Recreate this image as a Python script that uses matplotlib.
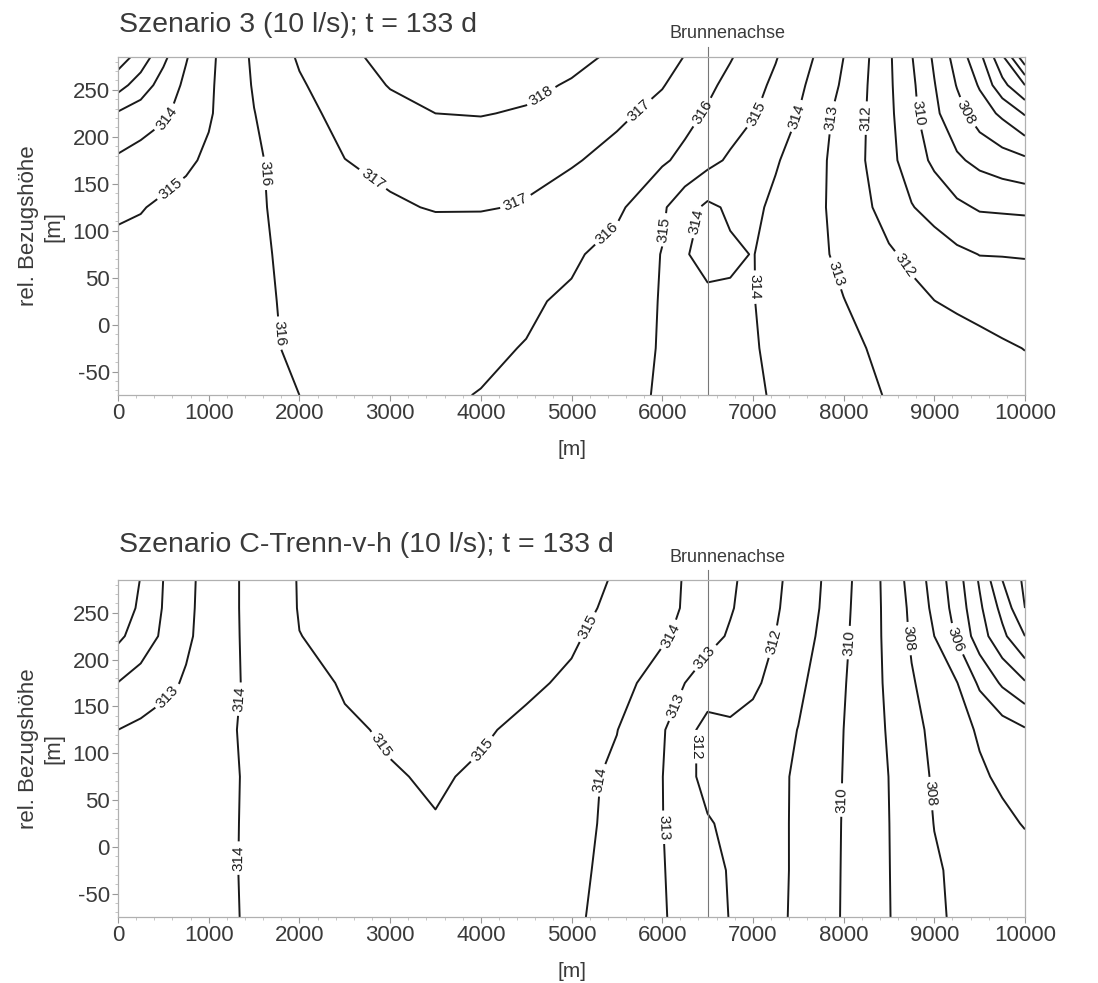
import numpy as np
import matplotlib
matplotlib.use("Agg")
import matplotlib.pyplot as plt
from matplotlib.ticker import MultipleLocator, AutoMinorLocator
import matplotlib.transforms as mtransforms

plt.rcParams['font.family'] = ['Liberation Sans', 'DejaVu Sans']
plt.rcParams['axes.unicode_minus'] = False

x_nodes = [0, 250, 500, 750, 1000, 1500, 2000, 2500, 3000, 3500, 4000, 4500, 5000, 5500, 6000, 6250,
           6500, 6750, 7000, 7250, 7500, 7750, 8000, 8250, 8500, 8750, 9000, 9250, 9500, 9750, 10000]
y_nodes = [-75, -25, 25, 75, 125, 175, 225, 255, 285]

# Szenario 3 - head (m) per row of y_nodes, bottom to top
head_s3 = [
    [315.55, 315.6, 315.65, 315.7, 315.75, 315.87, 316.0, 316.1, 316.12, 316.08, 315.98, 315.75, 315.47, 315.21, 314.93, 314.73,
     314.52, 314.32, 314.12, 313.92, 313.72, 313.52, 313.32, 313.12, 312.95, 312.85, 312.75, 312.65, 312.55, 312.45, 312.35],
    [315.5, 315.55, 315.6, 315.65, 315.75, 315.9, 316.07, 316.2, 316.25, 316.22, 316.12, 315.97, 315.62, 315.3, 314.95, 314.7,
     314.47, 314.25, 314.06, 313.85, 313.64, 313.42, 313.2, 313.0, 312.85, 312.7, 312.56, 312.41, 312.27, 312.12, 311.98],
    [315.4, 315.45, 315.5, 315.6, 315.7, 315.9, 316.1, 316.25, 316.35, 316.35, 316.25, 316.12, 315.86, 315.45, 314.95, 314.6,
     314.2, 314.15, 314.03, 313.73, 313.5, 313.27, 313.02, 312.77, 312.5, 312.26, 312.01, 311.85, 311.7, 311.55, 311.45],
    [315.25, 315.3, 315.4, 315.5, 315.6, 315.88, 316.18, 316.35, 316.5, 316.55, 316.5, 316.35, 316.15, 315.64, 314.97, 314.07,
     313.7, 313.85, 314.03, 313.65, 313.4, 313.12, 312.8, 312.45, 312.12, 311.8, 311.5, 311.2, 310.98, 310.97, 310.95],
    [314.85, 314.95, 315.15, 315.3, 315.5, 315.9, 316.25, 316.55, 316.9, 317.05, 317.05, 316.95, 316.5, 316.2, 315.15, 314.4,
     313.8, 314.15, 314.2, 313.8, 313.45, 313.1, 312.65, 312.15, 311.6, 311.05, 310.65, 310.2, 309.9, 309.85, 309.8],
    [314.15, 314.4, 314.6, 314.85, 315.15, 315.87, 316.45, 316.99, 317.2, 317.3, 317.3, 317.2, 317.1, 316.68, 316.13, 315.76,
     315.3, 314.85, 314.47, 314.09, 313.63, 313.15, 312.58, 311.97, 311.28, 310.53, 309.8, 309.15, 308.75, 308.45, 308.2],
    [313.1, 313.47, 313.85, 314.34, 314.9, 315.98, 316.74, 317.27, 317.7, 318.0, 318.05, 317.9, 317.54, 317.2, 316.71, 316.3,
     315.9, 315.5, 315.08, 314.56, 314.0, 313.32, 312.65, 312.0, 311.2, 310.3, 309.2, 308.36, 307.5, 306.8, 305.9],
    [311.6, 312.5, 313.4, 314.2, 314.85, 316.08, 316.9, 317.5, 318.05, 318.3, 318.4, 318.25, 317.9, 317.5, 317.05, 316.65,
     316.2, 315.74, 315.3, 314.81, 314.2, 313.56, 312.85, 312.05, 311.16, 310.2, 309.05, 307.95, 306.9, 305.31, 304.0],
    [310.5, 311.4, 312.78, 313.93, 314.78, 316.16, 317.1, 317.77, 318.3, 318.5, 318.6, 318.5, 318.3, 317.81, 317.26, 316.98,
     316.52, 316.07, 315.57, 315.06, 314.45, 313.78, 313.0, 312.13, 311.14, 310.05, 308.85, 307.61, 306.27, 304.2, 301.2],
]

# Szenario C-Trenn-v-h - head (m) per row of y_nodes, bottom to top
head_c = [
    [313.5, 313.6, 313.68, 313.77, 313.85, 314.07, 314.25, 314.42, 314.55, 314.58, 314.5, 314.35, 314.13, 313.72, 313.08, 312.72,
     312.34, 311.97, 311.59, 311.22, 310.81, 310.38, 309.93, 309.48, 309.03, 308.6, 308.18, 307.85, 307.7, 307.6, 307.5],
    [313.45, 313.55, 313.65, 313.75, 313.85, 314.08, 314.3, 314.5, 314.65, 314.7, 314.62, 314.45, 314.2, 313.75, 313.05, 312.68,
     312.3, 311.93, 311.58, 311.23, 310.84, 310.39, 309.94, 309.48, 309.02, 308.56, 308.1, 307.85, 307.68, 307.5, 307.35],
    [313.4, 313.5, 313.6, 313.7, 313.8, 314.1, 314.4, 314.65, 314.85, 314.97, 314.82, 314.6, 314.3, 313.77, 313.02, 312.59,
     312.08, 311.81, 311.5, 311.2, 310.86, 310.41, 309.95, 309.48, 309.01, 308.51, 307.98, 307.73, 307.47, 307.18, 306.95],
    [313.35, 313.45, 313.55, 313.65, 313.78, 314.1, 314.5, 314.78, 314.95, 315.07, 314.91, 314.6, 314.28, 313.84, 313.02, 312.3,
     311.7, 311.63, 311.4, 311.17, 310.89, 310.45, 309.97, 309.48, 308.99, 308.41, 307.89, 307.5, 307.13, 306.85, 306.53],
    [313.0, 313.2, 313.39, 313.58, 313.77, 314.14, 314.48, 314.9, 315.08, 315.12, 315.08, 314.86, 314.44, 314.02, 313.11, 312.3,
     311.7, 311.85, 311.7, 311.35, 310.98, 310.48, 310.0, 309.46, 308.91, 308.3, 307.77, 307.32, 306.89, 306.5, 306.1],
    [312.02, 312.38, 312.74, 313.11, 313.52, 314.2, 314.7, 315.08, 315.2, 315.25, 315.22, 315.12, 314.89, 314.34, 313.57, 313.0,
     312.48, 312.4, 312.16, 311.73, 311.2, 310.65, 310.07, 309.46, 308.82, 308.09, 307.55, 307.03, 305.83, 304.85, 304.1],
    [310.8, 311.47, 312.16, 312.83, 313.38, 314.29, 314.99, 315.15, 315.25, 315.3, 315.3, 315.25, 315.1, 314.69, 314.13, 313.77,
     313.33, 312.89, 312.44, 311.99, 311.44, 310.86, 310.17, 309.49, 308.75, 307.88, 307.0, 305.87, 304.47, 303.25, 302.0],
    [310.5, 311.15, 312.06, 312.77, 313.37, 314.31, 315.04, 315.2, 315.35, 315.45, 315.45, 315.35, 315.2, 314.85, 314.25, 313.93,
     313.5, 313.08, 312.6, 312.11, 311.55, 310.96, 310.23, 309.5, 308.73, 307.8, 306.77, 305.6, 304.18, 302.7, 301.0],
    [310.3, 311.03, 312.01, 312.74, 313.35, 314.32, 315.05, 315.25, 315.4, 315.5, 315.5, 315.4, 315.25, 314.94, 314.28, 313.95,
     313.55, 313.15, 312.68, 312.18, 311.61, 311.01, 310.28, 309.53, 308.68, 307.66, 306.62, 305.43, 303.88, 302.0, 300.8],
]

levels_s3 = list(range(301, 319))
levels_c = list(range(300, 316))

# approximate spots of the contour labels in the picture
labels_s3 = [(600, 215), (617, 140), (1589, 161), (1776, -9), (2747, 147), (4392, 129), (4715, 236),
             (5760, 227), (6463, 225), (5400, 97), (7033, 225), (6026, 101), (7489, 222), (6311, 111),
             (7030, 40), (7907, 220), (7926, 55), (8230, 220), (8648, 62), (8800, 225), (9332, 225)]
labels_c = [(579, 158), (1308, 158), (1346, -12), (2897, 108), (4018, 104), (5266, 230), (6083, 226),
            (5399, 71), (6500, 200), (6170, 150), (6026, 21), (6330, 107), (7261, 218), (8078, 218),
            (7983, 50), (8686, 222), (8971, 57), (9161, 218)]

well_x = 6500
titles = ["Szenario 3 (10 l/s); t = 133 d", "Szenario C-Trenn-v-h (10 l/s); t = 133 d"]

fig = plt.figure(figsize=(10.98, 9.83), dpi=100)
ax1 = fig.add_axes([0.1075, 0.598, 0.826, 0.344])
ax2 = fig.add_axes([0.1075, 0.067, 0.826, 0.343])

txt = '#3a3a3a'
for ax, head, lev, lab, title, ty, by in [
        (ax1, head_s3, levels_s3, labels_s3, titles[0], 1 - 25 / 983, 1 - 33 / 983),
        (ax2, head_c, levels_c, labels_c, titles[1], 1 - 545 / 983, 1 - 557 / 983)]:
    cs = ax.contour(x_nodes, y_nodes, np.array(head), levels=lev, colors='#1a1a1a', linewidths=1.4)
    ax.clabel(cs, fmt='%d', fontsize=11, inline=True, inline_spacing=4, manual=lab)
    ax.set_xlim(0, 10000)
    ax.set_ylim(-75, 285)
    ax.xaxis.set_major_locator(MultipleLocator(1000))
    ax.yaxis.set_major_locator(MultipleLocator(50))
    ax.xaxis.set_minor_locator(AutoMinorLocator(5))
    ax.yaxis.set_minor_locator(AutoMinorLocator(5))
    ax.tick_params(which='major', length=4, width=0.8, color='#999999', labelsize=16, labelcolor=txt, pad=2)
    ax.tick_params(which='minor', length=2, width=0.6, color='#bbbbbb')
    for s in ax.spines.values():
        s.set_color('#b0b0b0')
        s.set_linewidth(0.9)
    ax.set_xlabel('[m]', fontsize=15, color=txt, labelpad=11)
    ax.set_ylabel('rel. Bezugshöhe\n[m]', fontsize=16, color=txt, labelpad=6, linespacing=1.25)
    trans = mtransforms.blended_transform_factory(ax.transData, ax.transAxes)
    ax.plot([well_x, well_x], [0, 1.03], color='#777777', lw=0.8, transform=trans, clip_on=False)
    fig.text(0.108, ty, title, fontsize=20.5, color=txt, va='center', ha='left')
    ax.text(6720, by, 'Brunnenachse', fontsize=13, color=txt, ha='center', va='center',
            transform=mtransforms.blended_transform_factory(ax.transData, fig.transFigure))

fig.savefig('out.png', dpi=100)
